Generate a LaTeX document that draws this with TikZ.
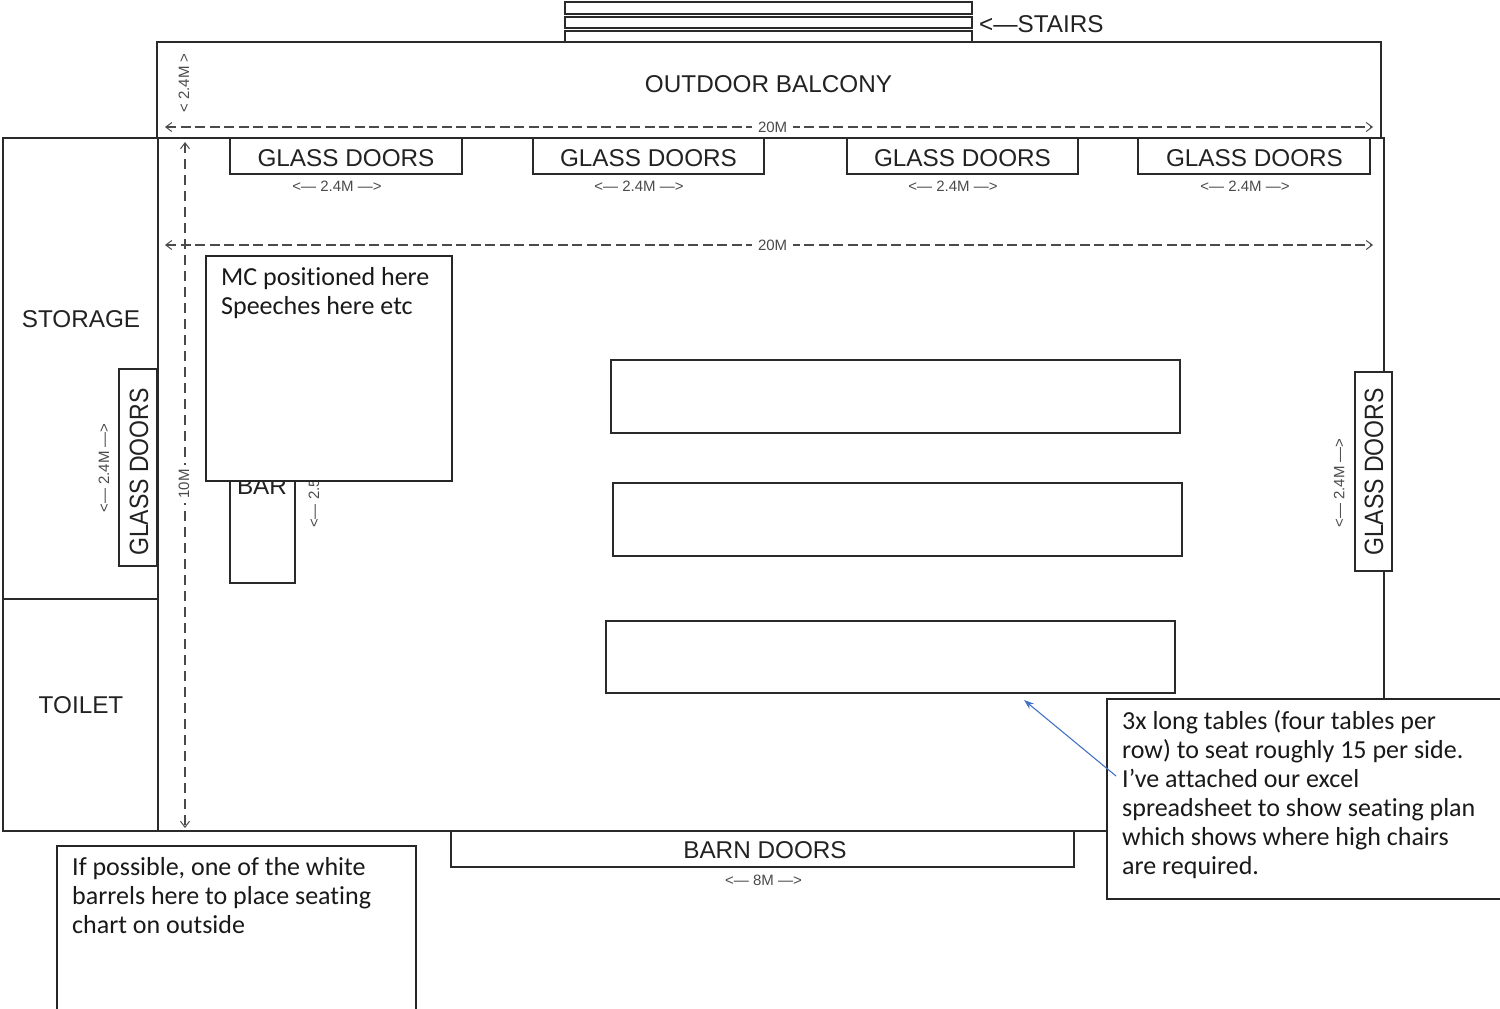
\documentclass[tikz,border=0pt]{standalone}
\usepackage{graphicx}
\usepackage{fontspec}
\setmainfont{Liberation Sans}
\newfontfamily\notefont[Ligatures=NoCommon]{Carlito}
\usetikzlibrary{arrows.meta,fit}
\definecolor{wall}{HTML}{2A2A2A}
\definecolor{ink}{HTML}{222222}
\definecolor{dimgrey}{HTML}{4A4A4A}
\definecolor{pointer}{HTML}{4472C4}
\tikzset{
  plan/.style={draw=wall,line width=1.6pt,fill=white,inner sep=0pt,outer sep=0pt},
  wallline/.style={draw=wall,line width=2pt},
  notebox/.style={draw=black!85,line width=1.2pt,fill=white,inner sep=0pt,outer sep=0pt},
  tablebox/.style={draw=wall,line width=2pt,fill=white,inner sep=0pt,outer sep=0pt},
  roomlabel/.style={text=ink,inner sep=0pt,font=\fontsize{24.3}{25}\selectfont},
  sidelabel/.style={roomlabel,rotate=90,font=\fontsize{26.5}{27}\selectfont},
  dimtext/.style={text=dimgrey,inner sep=0pt,font=\fontsize{15}{15}\selectfont},
  dimline/.style={draw=dimgrey,line width=1.2pt,dash pattern=on 10pt off 4.5pt,{Straight Barb[length=6pt,width=9pt,line width=1pt,sep=3pt]}-{Straight Barb[length=6pt,width=9pt,line width=1pt,sep=3pt]}},
  dimgap/.style={dimtext,fill=white,inner xsep=6pt,inner ysep=1pt},
  notetext/.style={anchor=north west,inner sep=0pt,align=left,text=black!90,font=\notefont\fontsize{26}{29}\selectfont},
  pointerline/.style={draw=pointer,line width=1.1pt,-{Stealth[length=10pt,width=7pt]}}
}
\begin{document}
\begin{tikzpicture}[x=1pt,y=-1pt]
\useasboundingbox (0,0) rectangle (1500,1009);
\clip (0,0) rectangle (1500,1009);
% balcony
\node[plan,fit={(157,42) (1381,138)}] (balcony) {};
\node[roomlabel] (balconytext) at (768.5,84) {OUTDOOR BALCONY};
% stairs
\node[plan,fit={(565,2) (972,14)}] (s1) {};
\node[plan,fit={(565,17) (972,28)}] (s2) {};
\node[plan,fit={(565,31) (972,42)}] (s3) {};
\node[roomlabel,anchor=west] (stairs) at (979,24) {<—STAIRS};
\coordinate (bal1) at (162,127);
\coordinate (bal2) at (1376,127);
\draw[dimline] (bal1) -- (bal2) node[dimgap,pos=0.503] (bal20) {20M};
\node[dimtext,rotate=90] (bal24) at (184,83) {< 2.4M >};
% hall walls
\coordinate (nw) at (3,138);
\coordinate (ne) at (1384,138);
\coordinate (se) at (1384,700);
\coordinate (sb) at (1110,831);
\coordinate (sw) at (3,831);
\coordinate (dt) at (158,138);
\coordinate (db) at (158,831);
\coordinate (tw) at (3,599);
\coordinate (te) at (158,599);
\draw[wallline] (se) -- (ne) -- (nw) -- (sw) -- (sb);
\draw[wallline] (dt) -- (db);
\draw[wallline] (tw) -- (te);
\node[roomlabel] (storage) at (81,319) {STORAGE};
\node[roomlabel] (toilet) at (81,705) {TOILET};
% glass doors
\node[plan,fit={(230,138) (462,174)}] (g1) {};
\node[plan,fit={(533,138) (764,174)}] (g2) {};
\node[plan,fit={(847,138) (1078,174)}] (g3) {};
\node[plan,fit={(1138,138) (1370,174)}] (g4) {};
\node[roomlabel] (g1text) at (346,158) {GLASS DOORS};
\node[roomlabel] (g2text) at (648.5,158) {GLASS DOORS};
\node[roomlabel] (g3text) at (962.5,158) {GLASS DOORS};
\node[roomlabel] (g4text) at (1254.5,158) {GLASS DOORS};
\node[dimtext] (d1) at (337,186) {<— 2.4M —>};
\node[dimtext] (d2) at (639,186) {<— 2.4M —>};
\node[dimtext] (d3) at (953,186) {<— 2.4M —>};
\node[dimtext] (d4) at (1245,186) {<— 2.4M —>};
\node[plan,fit={(119,369) (157,566)}] (gl) {};
\node[sidelabel] (gltext) at (139,472) {\scalebox{0.87}[1]{GLASS DOORS}};
\node[dimtext,rotate=90] (dl) at (104,468) {<— 2.4M —>};
\node[plan,fit={(1355,372) (1392,571)}] (gr) {};
\node[sidelabel] (grtext) at (1374,472) {\scalebox{0.87}[1]{GLASS DOORS}};
\node[dimtext,rotate=90] (dr) at (1339,483) {<— 2.4M —>};
% hall dimensions
\coordinate (hall1) at (162,245);
\coordinate (hall2) at (1376,245);
\draw[dimline] (hall1) -- (hall2) node[dimgap,pos=0.503] (hall20) {20M};
\coordinate (v1) at (185,139);
\coordinate (v2) at (185,831);
\draw[dimline,dash pattern=on 10pt off 6pt] (v1) -- (v2);
\node[dimgap,rotate=90,inner xsep=4pt,inner ysep=3pt] (v10) at (184,484) {10M};
% bar
\node[plan,fit={(230,470) (295,583)},line width=1.4pt] (bar) {};
\node[roomlabel] (bartext) at (262,486) {BAR};
\node[dimtext,rotate=90,anchor=west] (d25) at (314,528) {<— 2.5};
% tables
\node[tablebox,fit={(611,360) (1180,433)}] (t1) {};
\node[tablebox,fit={(613,483) (1182,556)}] (t2) {};
\node[tablebox,fit={(606,621) (1175,693)}] (t3) {};
% barn doors
\node[plan,fit={(451,831) (1074,867)}] (barn) {};
\node[roomlabel] (barntext) at (765,850) {BARN DOORS};
\node[dimtext] (d8) at (763.5,880) {<— 8M —>};
% notes
\node[notebox,fit={(206,256) (452,481)}] (mc) {};
\node[notetext] (mctext) at (221,267) {MC positioned here\\Speeches here etc};
\node[notebox,fit={(57,846) (416,1020)}] (barrel) {};
\node[notetext] (barreltext) at (72,857) {If possible, one of the white\\barrels here to place seating\\chart on outside};
\node[notebox,fit={(1107,699) (1510,899)}] (tables) {};
\node[notetext] (tablestext) at (1122,710) {3x long tables (four tables per\\row) to seat roughly 15 per side.\\I’ve attached our excel\\spreadsheet to show seating plan\\which shows where high chairs\\are required.};
\coordinate (ptrstart) at (1116,776);
\coordinate (ptrend) at (1024,700);
\draw[pointerline] (ptrstart) -- (ptrend);
\end{tikzpicture}
\end{document}
